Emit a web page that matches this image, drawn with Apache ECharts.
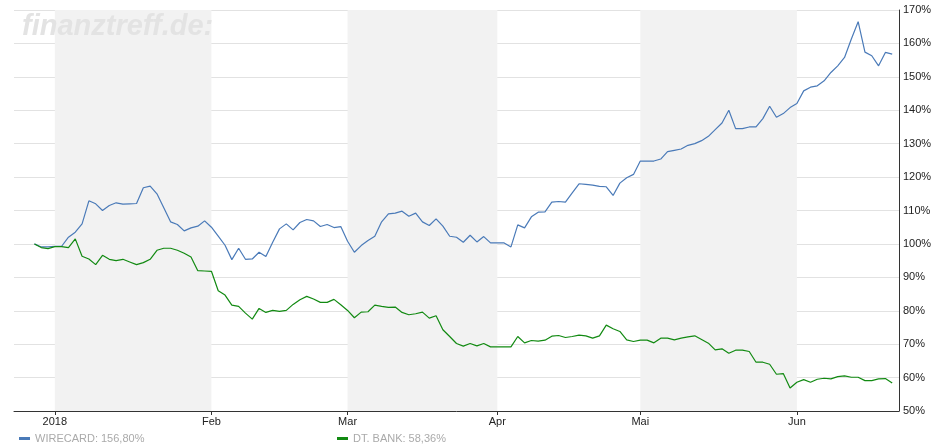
<!DOCTYPE html>
<html><head><meta charset="utf-8">
<script src="https://cdn.jsdelivr.net/npm/echarts@6/dist/echarts.min.js"></script>
<style>html,body{margin:0;padding:0;background:#fff}#c{width:939px;height:445px}</style>
</head><body><div id="c"></div>
<script>
// weekday categories from 2017-12-22 to 2018-06-22
const startDate = '2017-12-22', endDate = '2018-06-22';
const monthLabels = {'2018-01-01':'2018','2018-02-01':'Feb','2018-03-01':'Mar','2018-04-02':'Apr','2018-05-01':'Mai','2018-06-01':'Jun'};
const seriesNames = ['WIRECARD','DT. BANK'];
const lastValues = ['156,80%','58,36%'];
const wirecard = [null,null,null,
100,99.1,99.1,99.3,99.3,102,103.5,106,112.9,112,110,111.5,112.3,111.9,112,112.1,116.8,117.3,115,110.8,106.6,105.8,103.9,104.8,105.3,106.9,105,102.3,99.6,95.3,98.7,95.4,95.5,97.5,96.2,100.5,104.5,106,104.2,106.4,107.3,106.9,105.2,
105.8,104.9,105.2,100.8,97.5,99.5,101,102.3,106.6,109,109.2,109.8,108.3,109.2,106.6,105.5,107.5,105.3,102.3,102,100.5,102.6,100.6,102.2,100.3,100.3,100.3,99.1,105.7,104.8,108.1,109.5,109.6,112.5,112.7,112.5,115.3,118,117.8,117.6,117.2,117.1,114.5,
118.2,119.8,120.8,124.8,124.8,124.8,125.4,127.6,128,128.4,129.5,130,130.9,132.2,134.2,136.2,140,134.5,134.5,135,135,137.5,141.2,137.9,139,140.8,142,145.8,146.9,147.3,148.8,151.3,153.3,155.8,161.3,166.5,157.4,156.3,153.3,157.3,156.8];
const dtbank = [null,null,null,
100,98.9,98.6,99.2,99.2,98.9,101.5,96.3,95.5,93.8,96.6,95.4,95,95.4,94.6,93.8,94.4,95.4,98.1,98.7,98.7,98.1,97.2,96.1,92,91.9,91.8,86,84.7,81.7,81.3,79.3,77.5,80.7,79.5,80.1,79.8,80.1,81.9,83.3,84.3,83.5,82.5,
82.5,83.4,81.8,80.1,77.9,79.6,79.7,81.7,81.3,81,81.1,79.5,78.8,79.1,79.6,77.8,78.5,74.3,72.3,70.2,69.4,70.2,69.5,70.2,69.2,69.2,69.2,69.2,72.3,70.4,71.1,70.9,71.2,72.4,72.6,72,72.3,72.7,72.5,71.8,72.5,75.7,74.6,
73.8,71.3,70.8,71.2,71.2,70.4,71.8,71.8,71.3,71.8,72.2,72.5,71.4,70.3,68.3,68.6,67.3,68.2,68.2,67.8,64.6,64.6,64,61,61.2,56.9,58.6,59.4,58.6,59.5,59.8,59.6,60.3,60.5,60.1,60.1,59.1,59.1,59.6,59.7,58.36];
const shadedMonths = [['2018-01-01','2018-02-01'],['2018-03-01','2018-04-02'],['2018-05-01','2018-06-01']];

const cats = [];
for (let d = new Date(startDate+'T00:00:00Z'); d <= new Date(endDate+'T00:00:00Z'); d.setUTCDate(d.getUTCDate()+1)) {
  const w = d.getUTCDay(); if (w===0||w===6) continue;
  cats.push(d.toISOString().slice(0,10));
}
const chart = echarts.init(document.getElementById('c'));
const font = 'Liberation Sans, Arial, sans-serif';
chart.setOption({
  animation:false,
  graphic:[{type:'text',left:22,top:12,z:100,zlevel:0,style:{text:'finanztreff.de:',font:'italic bold 29px Liberation Sans, Arial',fill:'#e3e3e3'}}],
  grid:{left:14,right:40,top:10,bottom:34,containLabel:false},
  legend:[
    {data:[seriesNames[0]],left:14,top:428,icon:'rect',itemWidth:11,itemHeight:3,itemGap:4,
     textStyle:{color:'#aaa',fontSize:11,fontFamily:font},formatter:n=>n+': '+lastValues[0],selectedMode:false},
    {data:[seriesNames[1]],left:332,top:428,icon:'rect',itemWidth:11,itemHeight:3,itemGap:4,
     textStyle:{color:'#aaa',fontSize:11,fontFamily:font},formatter:n=>n+': '+lastValues[1],selectedMode:false}
  ],
  xAxis:{type:'category',data:cats,boundaryGap:false,
    axisLine:{lineStyle:{color:'#333'}},
    axisTick:{length:4,lineStyle:{color:'#333'},interval:(i,v)=>!!monthLabels[v]},
    axisLabel:{interval:(i,v)=>!!monthLabels[v],formatter:v=>monthLabels[v]||'',color:'#222',fontSize:11,fontFamily:font,margin:5},
    splitLine:{show:false}},
  yAxis:{type:'value',position:'right',min:50,max:170,interval:10,
    axisLine:{show:true,lineStyle:{color:'#333'}},axisTick:{show:false},
    axisLabel:{formatter:'{value}%',color:'#222',fontSize:11,fontFamily:font,margin:4},
    splitLine:{lineStyle:{color:'#e2e2e2'}}},
  series:[
    {name:seriesNames[0],type:'line',data:wirecard,symbol:'none',color:'#4a7ab8',lineStyle:{width:1.2},z:3,
     markArea:{silent:true,itemStyle:{color:'#f2f2f2'},data:shadedMonths.map(m=>[{xAxis:m[0]},{xAxis:m[1]}])}},
    {name:seriesNames[1],type:'line',data:dtbank,symbol:'none',color:'#128a12',lineStyle:{width:1.2},z:3}
  ]
});
</script></body></html>
